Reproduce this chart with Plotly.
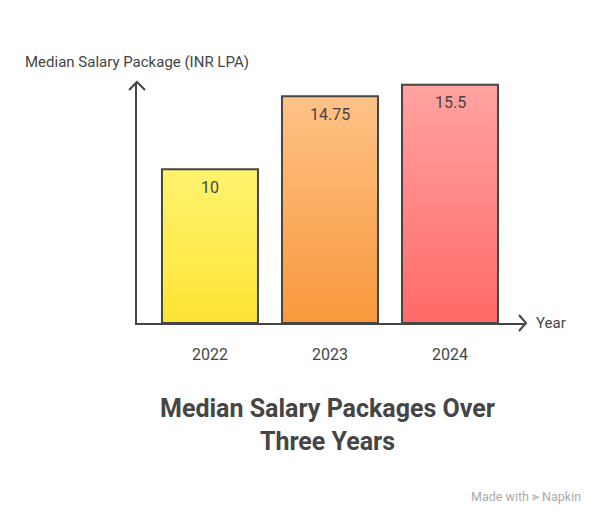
import plotly.graph_objects as go

# data
years = ["2022", "2023", "2024"]
median_lpa = [10, 14.75, 15.5]
labels = ["10", "14.75", "15.5"]
top_colors = ["#FFF26E", "#FFC287", "#FFA3A1"]
bottom_colors = ["#FDE535", "#F8983B", "#FF6A68"]

bar_w = 0.8
ink = "#454545"

fig = go.Figure()

for i, (v, c_top, c_bot) in enumerate(zip(median_lpa, top_colors, bottom_colors)):
    x0, x1 = i - bar_w / 2, i + bar_w / 2
    fig.add_trace(go.Scatter(
        x=[x0, x0, x1, x1, x0],
        y=[0, v, v, 0, 0],
        mode="lines",
        fill="toself",
        fillgradient=dict(type="vertical", colorscale=[[0, c_bot], [1, c_top]]),
        line=dict(color=ink, width=2),
        hoverinfo="skip",
        showlegend=False,
    ))
    fig.add_annotation(x=i, y=v, text=labels[i], showarrow=False,
                       yshift=-18, font=dict(size=16, color=ink))

# axis arrow heads (open chevrons)
fig.add_shape(type="path", xref="paper", yref="paper", xsizemode="pixel", ysizemode="pixel",
              xanchor=1, yanchor=0, path="M -7,-8 L 0,0 L -7,8",
              line=dict(color=ink, width=2))
fig.add_shape(type="path", xref="paper", yref="paper", xsizemode="pixel", ysizemode="pixel",
              xanchor=0, yanchor=1, path="M -8,-8 L 0,0 L 8,-8",
              line=dict(color=ink, width=2))

fig.add_annotation(xref="paper", yref="paper", x=0, y=1, yshift=31, xanchor="center",
                   text="Median Salary Package (INR LPA)", showarrow=False,
                   font=dict(size=15, color=ink))
fig.add_annotation(xref="paper", yref="paper", x=1, y=0, xshift=8, xanchor="left",
                   yanchor="middle", text="Year", showarrow=False,
                   font=dict(size=15, color=ink))

fig.add_annotation(xref="paper", yref="paper", x=0.49, y=0, yshift=-102, yanchor="middle",
                   text="<b>Median Salary Packages Over<br>Three Years</b>", showarrow=False,
                   font=dict(size=25, color=ink))
fig.add_annotation(xref="paper", yref="paper", x=1, y=0, xshift=57, yshift=-173,
                   xanchor="right", yanchor="middle", text="Made with ⫸ Napkin", showarrow=False,
                   font=dict(size=12.5, color="#AAAAAA"))

fig.update_layout(
    width=594, height=514,
    margin=dict(l=129, r=76, t=74, b=199),
    paper_bgcolor="white", plot_bgcolor="white",
    font=dict(family="Roboto", color=ink),
    xaxis=dict(range=[-0.608, 2.633], tickvals=[0, 1, 2], ticktext=years,
               showgrid=False, zeroline=False, showline=True, linecolor=ink, linewidth=2,
               ticks="", ticklabelstandoff=16, tickfont=dict(size=16, color=ink)),
    yaxis=dict(range=[0, 15.68], showgrid=False, zeroline=False, showline=True,
               linecolor=ink, linewidth=2, showticklabels=False, ticks=""),
)

fig.write_html("out.html")
